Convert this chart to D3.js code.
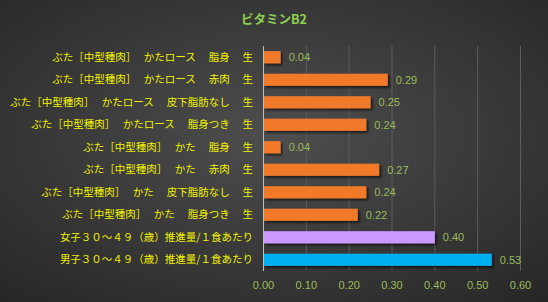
<!DOCTYPE html>
<html lang="ja">
<head>
<meta charset="utf-8">
<script src="https://cdnjs.cloudflare.com/ajax/libs/d3/7.8.5/d3.min.js"></script>
<style>
  html, body { margin: 0; padding: 0; background: #333; }
  svg { display: block; }
  text { white-space: pre; }
</style>
</head>
<body>
<svg width="548" height="302"></svg>
<script>
  const labels = [
    "ぶた［中型種肉］　 かたロース　 脂身　 生",
    "ぶた［中型種肉］　 かたロース　 赤肉　 生",
    "ぶた［中型種肉］　 かたロース　 皮下脂肪なし　 生",
    "ぶた［中型種肉］　 かたロース　 脂身つき　 生",
    "ぶた［中型種肉］　 かた　 脂身　 生",
    "ぶた［中型種肉］　 かた　 赤肉　 生",
    "ぶた［中型種肉］　 かた　 皮下脂肪なし　 生",
    "ぶた［中型種肉］　 かた　 脂身つき　 生",
    "女子３０～４９（歳）推進量/１食あたり",
    "男子３０～４９（歳）推進量/１食あたり"
  ];
  const values = [0.04, 0.29, 0.25, 0.24, 0.04, 0.27, 0.24, 0.22, 0.40, 0.533];
  const barColors = ["#f07a2c", "#f07a2c", "#f07a2c", "#f07a2c", "#f07a2c",
                     "#f07a2c", "#f07a2c", "#f07a2c", "#cc99ff", "#00b0f0"];
  const ticks = [0, 0.1, 0.2, 0.3, 0.4, 0.5, 0.6];

  const svg = d3.select("svg"),
        width = +svg.attr("width"),
        height = +svg.attr("height");

  const defs = svg.append("defs");
  const bg = defs.append("radialGradient").attr("id", "bg")
      .attr("cx", "50%").attr("cy", "45%").attr("r", "75%");
  bg.append("stop").attr("offset", "0%").attr("stop-color", "#4e4e4e");
  bg.append("stop").attr("offset", "100%").attr("stop-color", "#262626");

  const shadow = defs.append("filter").attr("id", "shadow")
      .attr("x", "-5%").attr("y", "-30%").attr("width", "115%").attr("height", "190%");
  shadow.append("feDropShadow").attr("dx", 2).attr("dy", 2)
      .attr("stdDeviation", 1.2).attr("flood-color", "#000").attr("flood-opacity", 0.6);

  svg.append("rect").attr("width", width).attr("height", height).attr("fill", "url(#bg)");

  const x = d3.scaleLinear().domain([0, 0.6]).range([263.5, 520.5]);
  const y = d3.scaleBand().domain(labels).range([46, 271]).paddingInner(0.46).paddingOuter(0.23);

  // gridlines
  svg.append("g").selectAll("line")
    .data(ticks.slice(1))
    .join("line")
      .attr("x1", d => x(d)).attr("x2", d => x(d))
      .attr("y1", 46).attr("y2", 271)
      .attr("stroke", "#5c5c5c").attr("stroke-width", 1);

  // title
  svg.append("text")
    .attr("x", 274).attr("y", 24)
    .attr("text-anchor", "middle")
    .attr("font-family", "'Noto Sans CJK JP', sans-serif")
    .attr("font-size", 12.5).attr("font-weight", "bold")
    .attr("fill", "#8fcf4f")
    .text("ビタミンB2");

  // bars
  svg.append("g").selectAll("rect")
    .data(values)
    .join("rect")
      .attr("x", x(0))
      .attr("y", (d, i) => y(labels[i]))
      .attr("width", d => x(d) - x(0))
      .attr("height", y.bandwidth())
      .attr("fill", (d, i) => barColors[i])
      .attr("filter", "url(#shadow)");

  // axis line
  svg.append("line")
    .attr("x1", x(0)).attr("x2", x(0)).attr("y1", 46).attr("y2", 271)
    .attr("stroke", "#bdbdbd").attr("stroke-width", 1);

  // value labels
  svg.append("g").selectAll("text")
    .data(values)
    .join("text")
      .attr("x", d => x(d) + 8)
      .attr("y", (d, i) => y(labels[i]) + y.bandwidth() / 2)
      .attr("dy", "0.35em")
      .attr("font-family", "'Liberation Sans', Arial, sans-serif")
      .attr("font-size", 11)
      .attr("fill", "#9bbb59")
      .text(d => d.toFixed(2));

  // category labels
  svg.append("g").selectAll("text")
    .data(labels)
    .join("text")
      .attr("x", 253)
      .attr("y", d => y(d) + y.bandwidth() / 2)
      .attr("dy", "0.35em")
      .attr("text-anchor", "end")
      .attr("font-family", "'Noto Sans CJK JP', sans-serif")
      .attr("font-size", 10.5)
      .attr("fill", "#f2f200")
      .text(d => d);

  // x tick labels
  svg.append("g").selectAll("text")
    .data(ticks)
    .join("text")
      .attr("x", d => x(d))
      .attr("y", 285)
      .attr("dy", "0.35em")
      .attr("text-anchor", "middle")
      .attr("font-family", "'Liberation Sans', Arial, sans-serif")
      .attr("font-size", 11)
      .attr("fill", "#9bbb59")
      .text(d => d.toFixed(2));
</script>
</body>
</html>
